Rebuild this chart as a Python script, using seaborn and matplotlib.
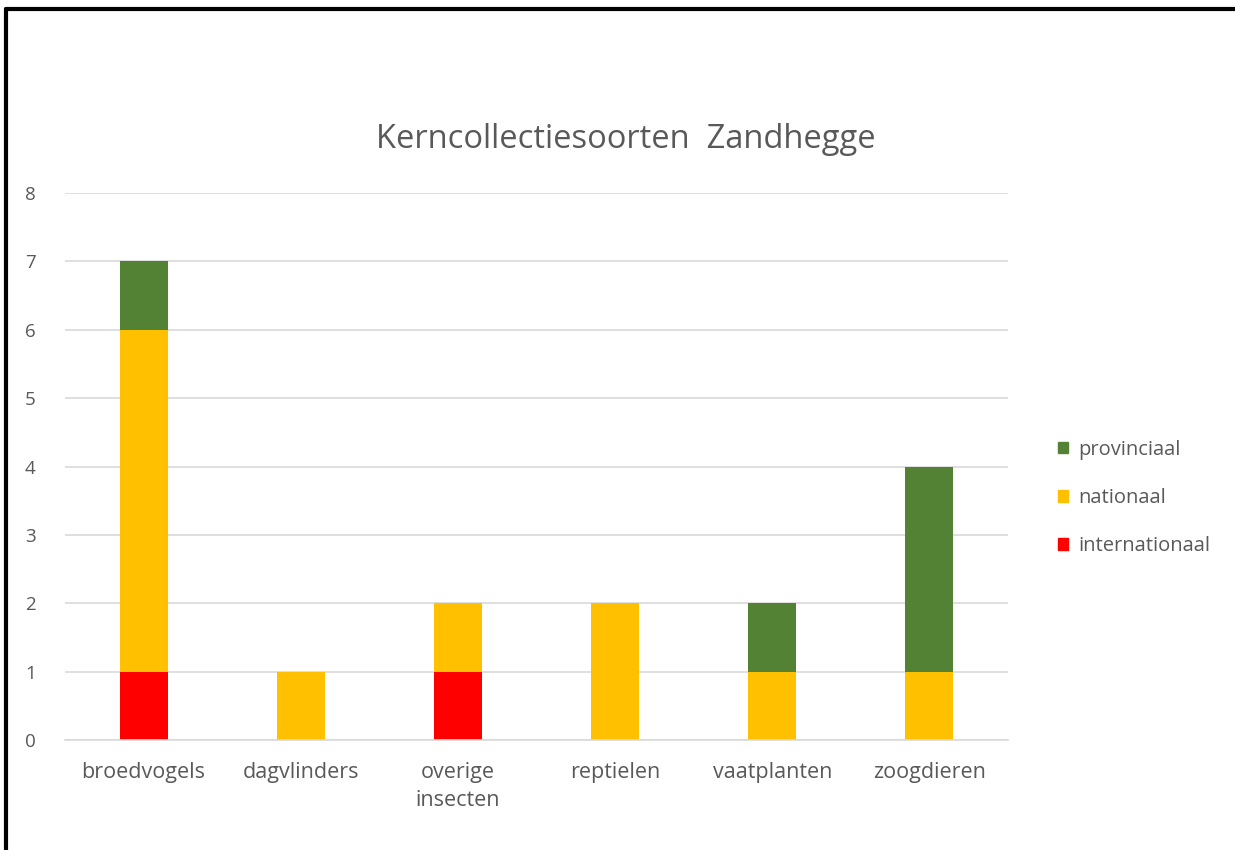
import numpy as np
import pandas as pd
import matplotlib
matplotlib.use("Agg")
import matplotlib.pyplot as plt
import seaborn as sns
from matplotlib.patches import Patch
from matplotlib.lines import Line2D

categorieen = ["broedvogels", "dagvlinders", "overige\ninsecten", "reptielen", "vaatplanten", "zoogdieren"]
internationaal = [1, 0, 1, 0, 0, 0]
nationaal = [5, 1, 1, 2, 1, 1]
provinciaal = [1, 0, 0, 0, 1, 3]

kleur_prov = "#548235"
kleur_nat = "#FFC000"
kleur_int = "#FF0000"
tekst = "#595959"

sns.set_style("white")
plt.rcParams["font.family"] = ["Open Sans", "DejaVu Sans"]

df = pd.DataFrame({
    "soortgroep": categorieen,
    "internationaal": internationaal,
    "nationaal": nationaal,
    "provinciaal": provinciaal,
})
# gestapeld: totale hoogtes overlappend tekenen
df["tot_nat"] = df["internationaal"] + df["nationaal"]
df["tot_prov"] = df["tot_nat"] + df["provinciaal"]

fig = plt.figure(figsize=(12.35, 8.5), dpi=100)
ax = fig.add_axes([65 / 1235, 1 - 740 / 850, 943 / 1235, (740 - 193) / 850])

w = 0.306
sns.barplot(data=df, x="soortgroep", y="tot_prov", color=kleur_prov, width=w, saturation=1, linewidth=0, ax=ax)
sns.barplot(data=df, x="soortgroep", y="tot_nat", color=kleur_nat, width=w, saturation=1, linewidth=0, ax=ax)
sns.barplot(data=df, x="soortgroep", y="internationaal", color=kleur_int, width=w, saturation=1, linewidth=0, ax=ax)

ax.set_ylim(0, 8)
ax.set_xlim(-0.5, len(categorieen) - 0.5)
ax.set_yticks(range(0, 9))
ax.yaxis.grid(True, color="#D9D9D9", linewidth=1.2)
ax.set_axisbelow(True)
for s in ["top", "right", "left"]:
    ax.spines[s].set_visible(False)
ax.spines["bottom"].set_color("#D9D9D9")
ax.spines["bottom"].set_linewidth(1.2)
ax.tick_params(axis="y", length=0, pad=21, labelsize=13.5, labelcolor=tekst)
ax.tick_params(axis="x", length=0, pad=16, labelsize=15.5, labelcolor=tekst)
for lbl in ax.get_xticklabels():
    lbl.set_linespacing(1.45)
ax.set_xlabel("")
ax.set_ylabel("")

fig.text(0.507, 1 - 140 / 850, "Kerncollectiesoorten  Zandhegge", ha="center", va="center",
         fontsize=23.5, color=tekst)

handles = [Patch(color=kleur_prov, label="provinciaal"),
           Patch(color=kleur_nat, label="nationaal"),
           Patch(color=kleur_int, label="internationaal")]
fig.legend(handles=handles, loc="center left", bbox_to_anchor=(1040 / 1235, 1 - 498 / 850),
           frameon=False, fontsize=14.5, labelcolor=tekst, handlelength=0.5, handleheight=0.5,
           handletextpad=0.5, labelspacing=1.4)

# rand van de schermafbeelding
fig.add_artist(Line2D([6 / 1235, 6 / 1235], [0, 1 - 9 / 850], color="black", linewidth=3))
fig.add_artist(Line2D([6 / 1235, 1], [1 - 9 / 850, 1 - 9 / 850], color="black", linewidth=3))

fig.savefig("out.png", dpi=100, facecolor="white")
